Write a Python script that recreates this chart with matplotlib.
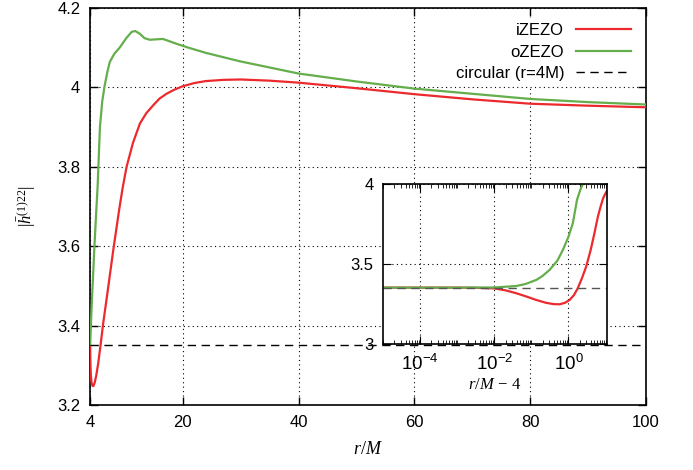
import numpy as np
import matplotlib
matplotlib.use("Agg")
import matplotlib.pyplot as plt
from matplotlib.ticker import FixedLocator, LogLocator, NullFormatter, FuncFormatter

plt.rcParams['font.family'] = ['Liberation Sans', 'DejaVu Sans']
plt.rcParams['mathtext.fontset'] = 'custom'
plt.rcParams['mathtext.rm'] = 'Liberation Serif'
plt.rcParams['mathtext.it'] = 'Liberation Serif:italic'
plt.rcParams['mathtext.sf'] = 'Liberation Sans'

# r/M - 4 and |h| for the two orbits
d_in = [1e-5, 1e-4, 1e-3, 3e-3, 1e-2, 0.02, 0.039, 0.07, 0.135, 0.25, 0.4, 0.575,
        0.8, 1.07, 1.4, 1.78, 2.3, 3.0, 4.0, 5.0, 5.6, 6.3, 7.4, 8.6, 9.7, 10.9,
        12.0, 13.2, 14.5, 16, 18, 20, 23, 26, 31, 36, 46, 56, 66, 76, 86, 96]
h_in = [3.352, 3.352, 3.352, 3.351, 3.347, 3.335, 3.317, 3.298, 3.275, 3.257, 3.249,
        3.248, 3.257, 3.275, 3.305, 3.348, 3.41, 3.483, 3.59, 3.69, 3.745, 3.80,
        3.86, 3.909, 3.935, 3.955, 3.972, 3.984, 3.994, 4.003, 4.011, 4.016, 4.019,
        4.020, 4.017, 4.012, 3.998, 3.983, 3.970, 3.959, 3.954, 3.950]

d_out = [1e-5, 1e-3, 1e-2, 0.039, 0.07, 0.135, 0.2, 0.31, 0.5, 0.71, 1.0, 1.31, 1.7,
         2.1, 2.5, 3.0, 3.4, 4.2, 5.1, 6.3, 7.2, 7.8, 8.6, 9.4, 10.3, 11.3, 12.6,
         14.9, 17, 20, 25.8, 36, 46, 56, 66, 76, 86, 96]
h_out = [3.352, 3.352, 3.353, 3.362, 3.375, 3.40, 3.425, 3.463, 3.52, 3.588, 3.67,
         3.754, 3.90, 3.965, 4.003, 4.04, 4.064, 4.085, 4.10, 4.125, 4.140, 4.142,
         4.135, 4.124, 4.120, 4.121, 4.122, 4.11, 4.100, 4.087, 4.066, 4.035, 4.015,
         3.997, 3.984, 3.971, 3.963, 3.957]

h_circ = 3.352

red = '#ec2a2e'
green = '#64ae4c'

fig = plt.figure(figsize=(6.93, 4.70), dpi=100)
ax = fig.add_axes([0.130, 0.138, 0.802, 0.845])

r_in = 4 + np.array(d_in)
r_out = 4 + np.array(d_out)
ax.plot(r_in, h_in, color=red, lw=1.6, label='iZEZO', zorder=3)
ax.plot(r_out, h_out, color=green, lw=1.6, label='oZEZO', zorder=3)
ax.axhline(h_circ, color='black', lw=1.0, dashes=(6, 4), label='circular (r=4M)',
           zorder=3)

ax.set_xlim(4, 100)
ax.set_ylim(3.2, 4.2)
ax.xaxis.set_major_locator(FixedLocator([4, 20, 40, 60, 80, 100]))
ax.yaxis.set_major_locator(FixedLocator([3.2, 3.4, 3.6, 3.8, 4.0, 4.2]))
ax.yaxis.set_major_formatter(FuncFormatter(lambda v, p: f"{v:g}"))
ax.tick_params(direction='in', length=6, width=1, top=True, right=True,
               labelsize=12, pad=7)
ax.grid(True, color='black', linestyle=(0, (1, 3)), lw=0.8)
for s in ax.spines.values():
    s.set_linewidth(1.2)
ax.set_xlabel(r'$r/M$', fontsize=13, labelpad=8)
ax.set_ylabel(r'$|\bar{h}^{(1)22}|$', fontsize=12, labelpad=14)

# opaque key: hides the grid but not the curves
leg = ax.legend(loc='upper right', frameon=True, markerfirst=False,
                fontsize=12, handlelength=3.3, handletextpad=0.7,
                labelspacing=0.4, borderaxespad=0.6, borderpad=0.3,
                facecolor='white', edgecolor='none', framealpha=1.0,
                fancybox=False)
leg.set_zorder(2)

# inset
ins = fig.add_axes([0.553, 0.268, 0.323, 0.341])
ins.plot(d_in, h_in, color=red, lw=1.6)
ins.plot(d_out, h_out, color=green, lw=1.6)
ins.axhline(h_circ, color='#555555', lw=1.0, dashes=(6, 4))
ins.set_xscale('log')
ins.set_xlim(1e-5, 11)
ins.set_ylim(3, 4)
ins.xaxis.set_major_locator(FixedLocator([1e-4, 1e-2, 1e0]))
ins.xaxis.set_major_formatter(FuncFormatter(
    lambda v, p: r'$\mathsf{10^{%d}}$' % int(round(np.log10(v)))))
ins.xaxis.set_minor_locator(LogLocator(base=10, subs=np.arange(1, 10), numticks=20))
ins.xaxis.set_minor_formatter(NullFormatter())
ins.yaxis.set_major_locator(FixedLocator([3, 3.5, 4]))
ins.yaxis.set_major_formatter(FuncFormatter(lambda v, p: f"{v:g}"))
ins.tick_params(which='both', direction='in', top=True, right=True, labelsize=12)
ins.tick_params(axis='x', which='major', labelsize=13.5)
ins.tick_params(which='major', length=6, pad=7)
ins.tick_params(which='minor', length=3)
ins.grid(True, which='major', color='black', linestyle=(0, (1, 3)), lw=0.8)
for s in ins.spines.values():
    s.set_linewidth(1.2)
ins.set_xlabel(r'$r/M$ $-$ $\mathrm{4}$', fontsize=12, labelpad=2)

fig.savefig('out.png', dpi=100)
